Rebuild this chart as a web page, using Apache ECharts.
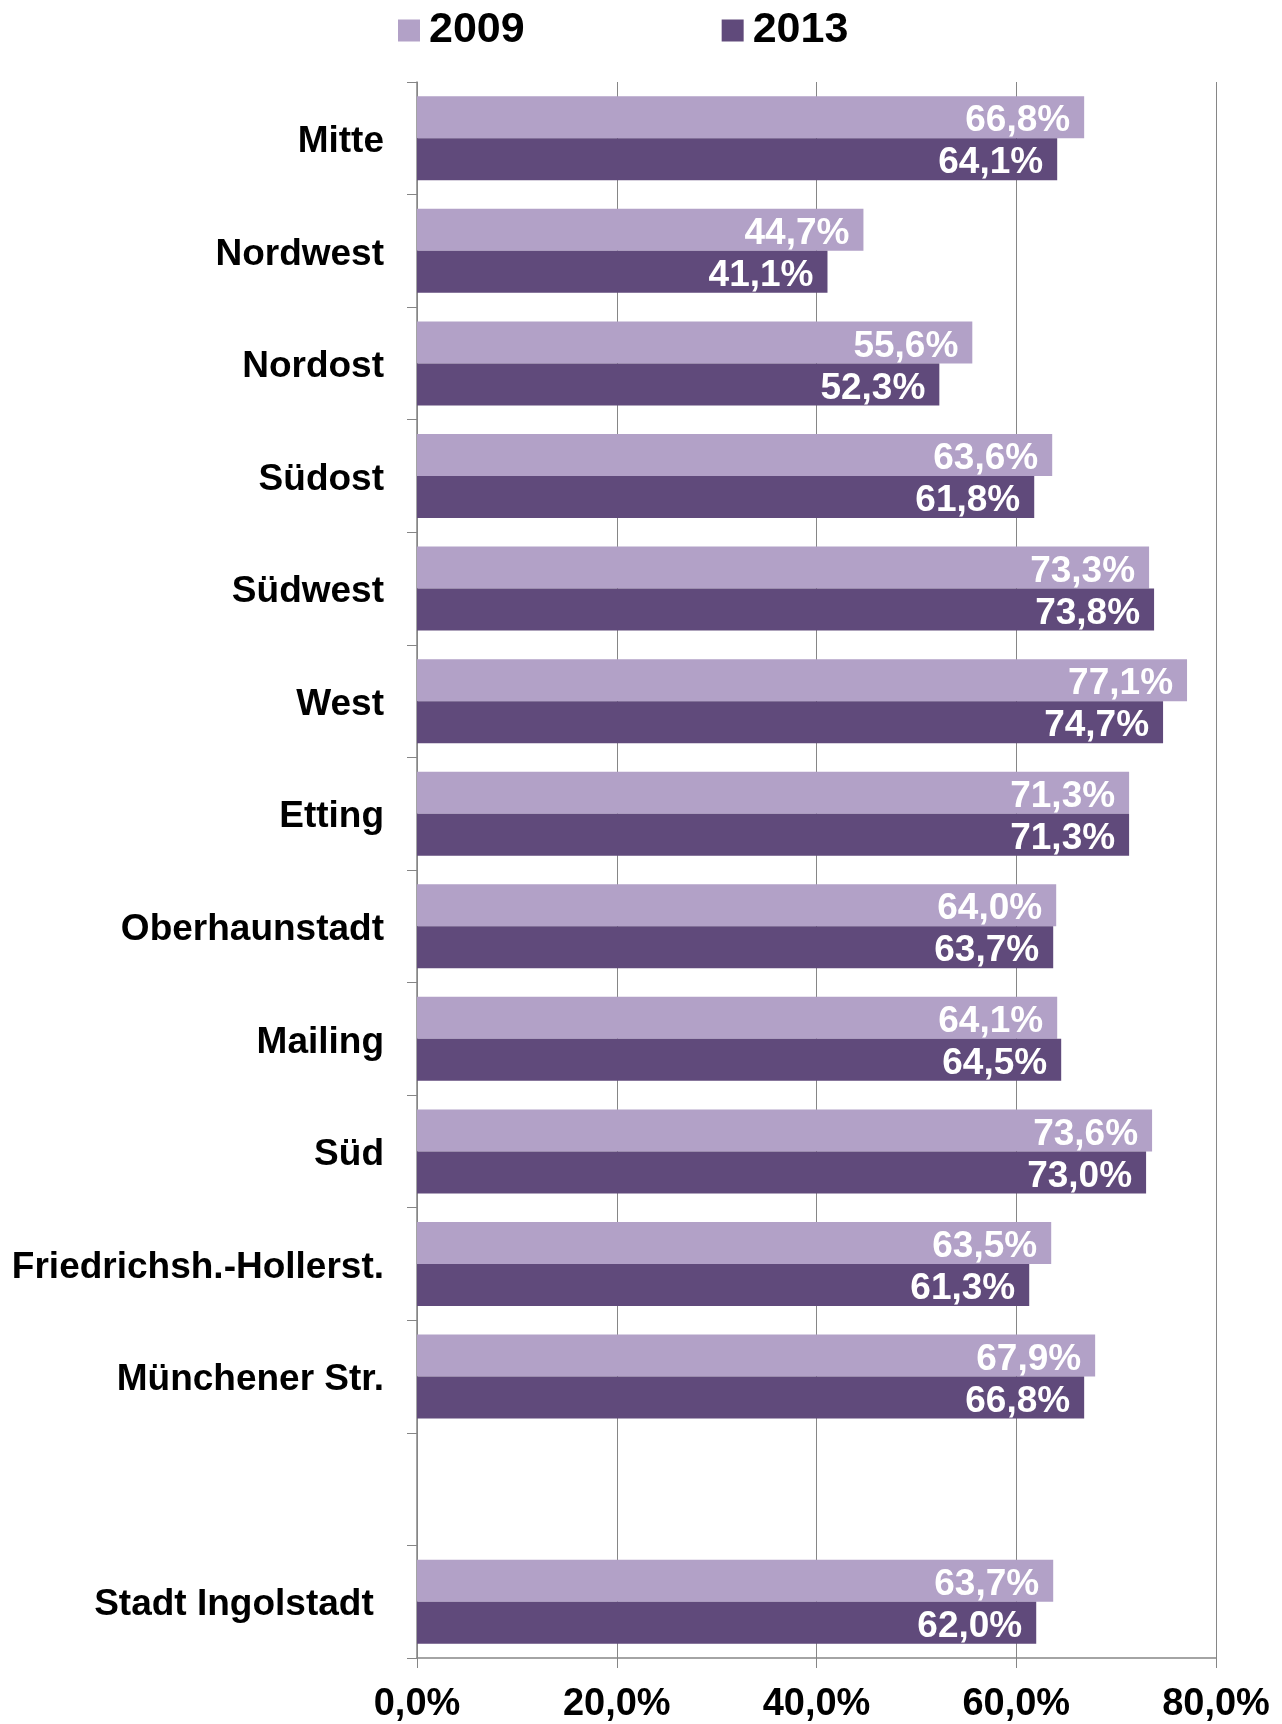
<!DOCTYPE html>
<html>
<head>
<meta charset="utf-8">
<script src="https://cdn.jsdelivr.net/npm/echarts@6/dist/echarts.min.js"></script>
<style>
html,body{margin:0;padding:0;background:#fff;}
#chart{width:1282px;height:1724px;}
</style>
</head>
<body>
<div id="chart"></div>
<script>
var categories = ["Mitte", "Nordwest", "Nordost", "Südost", "Südwest", "West", "Etting", "Oberhaunstadt", "Mailing", "Süd", "Friedrichsh.-Hollerst.", "Münchener Str.", "", "Stadt Ingolstadt "];
var values2009 = [66.8, 44.7, 55.6, 63.6, 73.3, 77.1, 71.3, 64.0, 64.1, 73.6, 63.5, 67.9, null, 63.7];
var values2013 = [64.1, 41.1, 52.3, 61.8, 73.8, 74.7, 71.3, 63.7, 64.5, 73.0, 61.3, 66.8, null, 62.0];
var seriesNames = ["2009", "2013"];
var xTicks = [0, 20, 40, 60, 80];

var FONT = "'Liberation Sans', Arial, sans-serif";
function pct(v) { return Number(v).toFixed(1).replace('.', ',') + '%'; }

var chart = echarts.init(document.getElementById('chart'), null, {renderer: 'canvas'});
var labelStyle = {
  show: true, position: 'insideRight', distance: 14, offset: [0, 4],
  color: '#ffffff', fontFamily: FONT, fontWeight: 'bold', fontSize: 37,
  formatter: function (p) { return pct(p.value); }
};
chart.setOption({
  animation: false,
  backgroundColor: '#ffffff',
  legend: {
    data: seriesNames,
    left: 393, top: 4,
    icon: 'rect', itemWidth: 22, itemHeight: 22, itemGap: 197,
    textStyle: {fontFamily: FONT, fontWeight: 'bold', fontSize: 43, color: '#000', padding: [0, 0, 0, 4]}
  },
  grid: {left: 417, right: 66, top: 82, bottom: 64, containLabel: false},
  xAxis: {
    type: 'value', min: xTicks[0], max: xTicks[xTicks.length - 1], interval: 20,
    axisLine: {show: true, lineStyle: {color: '#868686', width: 1.5}},
    axisTick: {show: true, length: 10, lineStyle: {color: '#868686'}},
    splitLine: {show: true, lineStyle: {color: '#868686', width: 1}},
    axisLabel: {margin: 28, fontFamily: FONT, fontWeight: 'bold', fontSize: 38, color: '#000', formatter: pct}
  },
  yAxis: {
    type: 'category', data: categories, inverse: true,
    axisLine: {show: true, lineStyle: {color: '#868686', width: 1.5}},
    axisTick: {show: true, length: 10, lineStyle: {color: '#868686'}},
    axisLabel: {
      margin: 33, fontFamily: FONT, fontWeight: 'bold', fontSize: 37, color: '#000',
      formatter: function (v) { return '{a|' + v + '}'; },
      rich: {a: {fontFamily: FONT, fontWeight: 'bold', fontSize: 37, color: '#000', padding: [7, 0, 0, 0]}}
    }
  },
  series: [
    {name: seriesNames[0], type: 'bar', data: values2009, barWidth: 42, barGap: '0%',
     itemStyle: {color: '#B2A1C7'}, label: labelStyle},
    {name: seriesNames[1], type: 'bar', data: values2013, barWidth: 42, barGap: '0%',
     itemStyle: {color: '#604A7B'}, label: labelStyle}
  ]
});
</script>
</body>
</html>
